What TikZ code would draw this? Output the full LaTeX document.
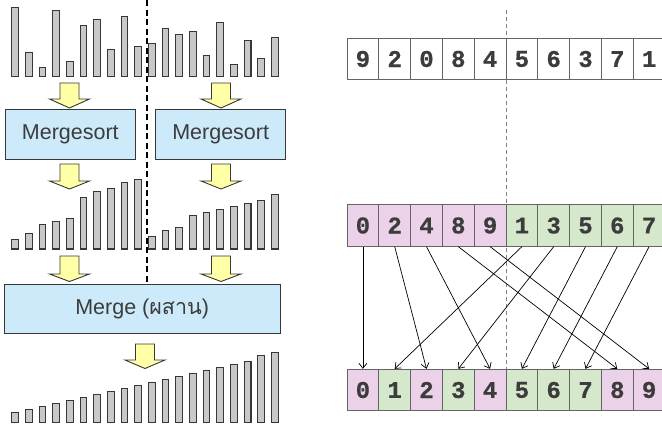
\documentclass[tikz,border=0pt]{standalone}
\usepackage{fontspec}
\setmainfont{Liberation Sans}
\newfontfamily\thaifont[Script=Thai]{Loma}
\newfontfamily\digitfont[FakeBold=0.6]{Liberation Mono Bold}
\usetikzlibrary{arrows.meta}
\definecolor{barfill}{RGB}{200,200,200}
\definecolor{barline}{RGB}{55,55,55}
\definecolor{boxfill}{RGB}{204,234,250}
\definecolor{arrfill}{RGB}{255,255,165}
\definecolor{pinkc}{RGB}{236,210,232}
\definecolor{greenc}{RGB}{213,232,204}
\definecolor{txt}{RGB}{60,60,60}
\definecolor{cellline}{RGB}{100,100,100}
\newcommand\YArrow[4]{%
  \draw[yarr] ({#1-9.5},#2) -- ({#1+9.5},#2) -- ({#1+9.5},#3) -- ({#1+20},#3)
    -- (#1,#4) -- ({#1-20},#3) -- ({#1-9.5},#3) -- cycle;}
\begin{document}
\begin{tikzpicture}[x=1pt,y=-1pt,
  bar/.style={fill=barfill,draw=barline,line width=1.1pt},
  yarr/.style={fill=arrfill,draw=barline,line width=0.9pt,line join=miter},
  procbox/.style={draw=barline,fill=boxfill,line width=1pt,inner sep=0pt,
    text=txt,font=\fontsize{21.5}{24}\selectfont},
  cell/.style={draw=cellline,line width=0.8pt,minimum width=31.8pt,minimum height=41.5pt,
    inner sep=0pt,text=txt,font=\digitfont\fontsize{24}{24}\selectfont},
  conn/.style={draw=black,line width=0.7pt,-{Straight Barb[length=5pt,width=8pt]}}]
\clip (0,0) rectangle (662,426);
\fill[white] (0,0) rectangle (662,426);

% ---------- left: bars ----------
\foreach \r [count=\i from 0] in {20,5,0,19,2,14,16,6,17,7,8,13,11,12,4,15,1,9,3,10}
  \draw[bar] ({11.7+13.68*\i},76.7) rectangle ++(6.7,{-(9.4+3*\r)});
\foreach \r [count=\i from 0] in {0,2,5,6,7,14,16,17,19,20,1,3,4,8,9,10,11,12,13,15}
  \draw[bar] ({11.7+13.68*\i},249) rectangle ++(6.7,{-(9.4+3*\r)});
\foreach \r [count=\i from 0] in {0,1,2,3,4,5,6,7,8,9,10,11,12,13,14,15,16,17,19,20}
  \draw[bar] ({11.7+13.68*\i},422.3) rectangle ++(6.7,{-(9.4+3*\r)});

% boxes
\node[procbox,minimum width=130pt,minimum height=50pt] (ms1) at (70.3,134.3) {Mergesort};
\node[procbox,minimum width=130pt,minimum height=50pt] (ms2) at (220.7,134.3) {Mergesort};
\node[procbox,minimum width=275.7pt,minimum height=49.3pt] (mg) at (142.15,308.7)
  {Merge (\thaifont ผสาน\rmfamily)};

% block arrows
\YArrow{69.5}{83}{99}{108}
\YArrow{221}{83}{99}{108}
\YArrow{69.5}{164}{181}{189}
\YArrow{221}{164}{181}{189}
\YArrow{69.5}{256}{274}{281.5}
\YArrow{221}{256}{274}{281.5}
\YArrow{145}{344}{360}{368.5}

% thick dashed divider
\coordinate (dtop) at (146.7,0);
\draw[line width=2.4pt,dash pattern=on 6pt off 3.5pt] (dtop) -- (mg.north -| dtop);

% ---------- right: arrays ----------
\coordinate (rtop) at (506,10);
\coordinate (rbot) at (506,369);
\draw[draw=gray,line width=0.8pt,dash pattern=on 4pt off 3pt] (rtop) -- (rbot);

\foreach \v [count=\i from 0] in {9,2,0,8,4,5,6,3,7,1}
  \node[cell,fill=white] (t\i) at ({347+31.8*(\i+0.5)},59) {\v};
\foreach \v/\c [count=\i from 0] in {0/pinkc,2/pinkc,4/pinkc,8/pinkc,9/pinkc,1/greenc,3/greenc,5/greenc,6/greenc,7/greenc}
  \node[cell,fill=\c] (m\i) at ({347+31.8*(\i+0.5)},225.5) {\v};
\foreach \v/\c [count=\i from 0] in {0/pinkc,1/greenc,2/pinkc,3/greenc,4/pinkc,5/greenc,6/greenc,7/greenc,8/pinkc,9/pinkc}
  \node[cell,fill=\c] (b\i) at ({347+31.8*(\i+0.5)},390) {\v};

\foreach \i/\v in {0/0,1/2,2/4,3/8,4/9,5/1,6/3,7/5,8/6,9/7}
  \draw[conn] (m\i.south) -- (b\v.north);
\end{tikzpicture}
\end{document}
